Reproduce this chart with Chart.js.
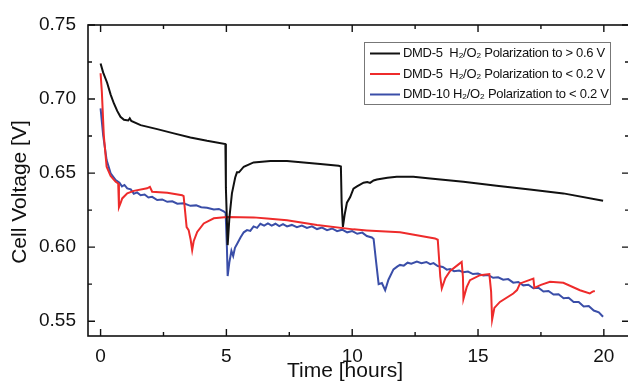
<!DOCTYPE html>
<html>
<head>
<meta charset="utf-8">
<script src="https://cdn.jsdelivr.net/npm/chart.js@4.4.1/dist/chart.umd.min.js"></script>
<style>
  html, body { margin: 0; padding: 0; background: #fff; overflow: hidden; }
  #wrap { width: 640px; height: 384px; }
</style>
</head>
<body>
<div id="wrap"><canvas id="volt"></canvas></div>
<script>
// values: time [h] and cell voltage [V]
const blackTime = [0, 0.1, 0.26, 0.4, 0.53, 0.66, 0.79, 0.93, 1.1, 1.16, 1.22, 1.59, 2.25, 2.91, 3.57, 4.23, 4.96,
  4.98, 5.05, 5.12, 5.22, 5.35, 5.42, 5.5, 5.69, 6.08, 6.75, 7.41, 8.07, 8.73, 9.46, 9.55,
  9.58, 9.63, 9.7, 9.79, 9.92, 10.05, 10.19, 10.45, 10.6, 10.71, 10.85, 10.98, 11.4, 11.77, 12.43, 13.1,
  14.42, 15.74, 17.06, 18.39, 19.97];
const blackVolt = [0.724, 0.718, 0.711, 0.703, 0.697, 0.692, 0.688, 0.686, 0.6855, 0.687, 0.6852, 0.6824, 0.6797, 0.6768, 0.6741, 0.6718, 0.6696,
  0.64, 0.6014, 0.62, 0.6363, 0.647, 0.6505, 0.6505, 0.6543, 0.6572, 0.6581, 0.6581, 0.6572, 0.6561, 0.6549, 0.6545,
  0.63, 0.6137, 0.622, 0.63, 0.6338, 0.6395, 0.641, 0.6435, 0.644, 0.6434, 0.645, 0.6457, 0.6468, 0.6475, 0.6475, 0.6464,
  0.6441, 0.6414, 0.639, 0.6363, 0.6313];

const redTime = [0, 0.05, 0.13, 0.24, 0.4, 0.6, 0.7, 0.73, 0.8, 0.86, 1.06, 1.32, 1.85, 1.96, 2.05, 2.65, 3.24, 3.3,
  3.42, 3.5, 3.58, 3.64, 3.7, 3.84, 4.1, 4.5, 5.03, 6.08, 6.61, 7.41, 8.6, 10.05, 10.58, 11.9, 13.29, 13.4,
  13.5, 13.56, 13.7, 13.89, 14.2, 14.35, 14.4, 14.42, 14.55, 14.68, 15.08, 15.45, 15.52, 15.56, 15.65, 15.87,
  16.4, 16.55, 16.67, 17.2, 17.24, 17.5, 17.86, 18.39, 19.05, 19.44, 19.55, 19.64];
const redVolt = [0.7174, 0.705, 0.675, 0.6543, 0.648, 0.6441, 0.643, 0.627, 0.63, 0.6329, 0.6363, 0.638, 0.6397, 0.6407, 0.6374, 0.6367, 0.6351, 0.6345,
  0.6135, 0.6115, 0.605, 0.598, 0.604, 0.6103, 0.616, 0.6195, 0.6203, 0.6201, 0.6194, 0.6182, 0.615, 0.612, 0.6113, 0.61, 0.6059, 0.605,
  0.58, 0.5721, 0.579, 0.584, 0.588, 0.59, 0.58, 0.565, 0.573, 0.5777, 0.5811, 0.5818, 0.57, 0.551, 0.559, 0.563,
  0.5687, 0.571, 0.5755, 0.5788, 0.5725, 0.5745, 0.5766, 0.5759, 0.5709, 0.5687, 0.57, 0.5704];

const blueTime = [0, 0.1, 0.24, 0.4, 0.6, 0.75, 0.85, 0.95, 1.06, 1.2, 1.32, 1.45, 1.59, 1.75, 1.9, 2.05, 2.25, 2.45, 2.65, 2.85,
  3.05, 3.3, 3.57, 3.8, 4, 4.23, 4.5, 4.7, 4.89, 4.97, 5.02, 5.05, 5.12, 5.2, 5.27, 5.34, 5.45, 5.56, 5.69, 5.82,
  5.95, 6.08, 6.22, 6.35, 6.5, 6.65, 6.8, 6.95, 7.1, 7.25, 7.41, 7.6, 7.8, 8, 8.2, 8.4, 8.6, 8.8, 9, 9.2,
  9.4, 9.6, 9.8, 10, 10.2, 10.4, 10.58, 10.78, 10.85, 10.95, 11.05, 11.18, 11.31, 11.44, 11.64, 11.8, 11.9, 12.05, 12.2, 12.35,
  12.57, 12.75, 12.95, 13.1, 13.23, 13.4, 13.6, 13.76, 13.89, 14.05, 14.25, 14.42, 14.6, 14.8, 15, 15.21, 15.4, 15.6, 15.8, 16,
  16.2, 16.4, 16.6, 16.8, 17, 17.2, 17.4, 17.6, 17.8, 18, 18.2, 18.4, 18.6, 18.8, 19, 19.2, 19.4, 19.6, 19.8, 19.97];
const blueVolt = [0.6937, 0.676, 0.6588, 0.6498, 0.6453, 0.6435, 0.641, 0.642, 0.6397, 0.639, 0.636, 0.637, 0.6351, 0.6355, 0.6335, 0.634, 0.6318, 0.6322, 0.6306, 0.631,
  0.6293, 0.6296, 0.6279, 0.6282, 0.627, 0.6266, 0.6255, 0.6258, 0.6242, 0.623, 0.6, 0.5805, 0.59, 0.5975, 0.594, 0.5995, 0.603, 0.6065, 0.61, 0.6115,
  0.611, 0.614, 0.613, 0.6158, 0.6145, 0.616, 0.6145, 0.6158, 0.6142, 0.6155, 0.614, 0.615, 0.6135, 0.6146, 0.613, 0.614, 0.6122, 0.6132, 0.6115, 0.6126,
  0.6108, 0.6118, 0.61, 0.6108, 0.609, 0.6098, 0.6075, 0.6065, 0.6055, 0.59, 0.575, 0.5758, 0.5709, 0.578, 0.585, 0.587, 0.588, 0.5875, 0.5895, 0.5888,
  0.5902, 0.5892, 0.59, 0.5885, 0.5892, 0.5872, 0.5866, 0.5848, 0.5852, 0.5838, 0.5842, 0.583, 0.5835, 0.5818, 0.5822, 0.5808, 0.5812, 0.5793, 0.5796, 0.578,
  0.5784, 0.576, 0.5765, 0.5742, 0.5746, 0.5722, 0.5726, 0.57, 0.5704, 0.568, 0.5682, 0.5655, 0.5658, 0.563, 0.563, 0.56, 0.5602, 0.5572, 0.556, 0.553];

const seriesLabels = [
  'DMD-5  H\u2082/O\u2082 Polarization to > 0.6 V',
  'DMD-5  H\u2082/O\u2082 Polarization to < 0.2 V',
  'DMD-10 H\u2082/O\u2082 Polarization to < 0.2 V'
];
const seriesColors = ['#111111', '#ee2b2b', '#3a4ea8'];

const xTicks = [0, 5, 10, 15, 20];
const xMinorTicks = [2.5, 7.5, 12.5, 17.5];
const yTicks = [0.55, 0.60, 0.65, 0.70, 0.75];
const yMinorTicks = [0.575, 0.625, 0.675, 0.725];
const xTitle = 'Time [hours]';
const yTitle = 'Cell Voltage [V]';

const FONT = "'Liberation Sans', Arial, Helvetica, sans-serif";

function pairs(xs, ys) {
  return xs.map((x, i) => ({ x: x, y: ys[i] }));
}

// frame with inward ticks on all four sides, plus axis titles
const framePlugin = {
  id: 'frame',
  afterDatasetsDraw(chart) {
    const { ctx, chartArea: a, scales } = chart;
    const xs = scales.x, ys = scales.y;
    ctx.save();
    ctx.strokeStyle = '#111';
    ctx.lineWidth = 1.6;
    ctx.strokeRect(a.left, a.top, a.right - a.left, a.bottom - a.top);
    ctx.lineWidth = 1.4;
    ctx.beginPath();
    const xt = (v, len) => {
      const px = xs.getPixelForValue(v);
      ctx.moveTo(px, a.bottom); ctx.lineTo(px, a.bottom - len);
      ctx.moveTo(px, a.top); ctx.lineTo(px, a.top + len);
    };
    const yt = (v, len) => {
      const py = ys.getPixelForValue(v);
      ctx.moveTo(a.left, py); ctx.lineTo(a.left + len, py);
      ctx.moveTo(a.right, py); ctx.lineTo(a.right - len, py);
    };
    xTicks.forEach(v => xt(v, 7));
    xMinorTicks.forEach(v => xt(v, 4));
    yTicks.forEach(v => yt(v, 7));
    yMinorTicks.forEach(v => yt(v, 4));
    ctx.stroke();

    ctx.fillStyle = '#111';
    ctx.font = '21px ' + FONT;
    ctx.textAlign = 'center';
    ctx.textBaseline = 'middle';
    ctx.fillText(xTitle, 345, 371);
    ctx.translate(20, 192);
    ctx.rotate(-Math.PI / 2);
    ctx.fillText(yTitle, 0, 0);
    ctx.restore();
  }
};

const legendPlugin = {
  id: 'boxLegend',
  afterDraw(chart) {
    const ctx = chart.ctx;
    ctx.save();
    ctx.fillStyle = '#fff';
    ctx.fillRect(364.5, 42.5, 246, 62);
    ctx.strokeStyle = '#777';
    ctx.lineWidth = 1;
    ctx.strokeRect(364.5, 42.5, 246, 62);
    ctx.font = '13px ' + FONT;
    ctx.letterSpacing = '-0.3px';
    ctx.textBaseline = 'middle';
    ctx.textAlign = 'left';
    chart.data.datasets.forEach((ds, i) => {
      const y = 53.5 + i * 20.5;
      ctx.strokeStyle = ds.borderColor;
      ctx.lineWidth = 2;
      ctx.beginPath();
      ctx.moveTo(370, y); ctx.lineTo(400, y);
      ctx.stroke();
      ctx.fillStyle = '#111';
      ctx.fillText(ds.label, 403, y);
    });
    ctx.restore();
  }
};

new Chart(document.getElementById('volt'), {
  type: 'line',
  data: {
    datasets: [
      { label: seriesLabels[0], data: pairs(blackTime, blackVolt), borderColor: seriesColors[0] },
      { label: seriesLabels[1], data: pairs(redTime, redVolt), borderColor: seriesColors[1] },
      { label: seriesLabels[2], data: pairs(blueTime, blueVolt), borderColor: seriesColors[2] }
    ]
  },
  options: {
    responsive: true,
    maintainAspectRatio: false,
    animation: false,
    layout: { padding: { top: 25, right: 11, left: 0, bottom: 0 } },
    elements: {
      line: { borderWidth: 2, tension: 0 },
      point: { radius: 0 }
    },
    plugins: {
      legend: { display: false },
      tooltip: { enabled: false }
    },
    scales: {
      x: {
        type: 'linear',
        min: -0.5,
        max: 21,
        grid: { display: false, drawTicks: false },
        border: { display: false },
        afterBuildTicks: (s) => { s.ticks = xTicks.map(v => ({ value: v })); },
        afterFit: (s) => { s.height = 48; },
        ticks: {
          padding: 9,
          color: '#111',
          font: { family: FONT, size: 19 },
          maxRotation: 0,
          callback: (v) => String(v)
        }
      },
      y: {
        type: 'linear',
        min: 0.54,
        max: 0.75,
        grid: { display: false, drawTicks: false },
        border: { display: false },
        afterBuildTicks: (s) => { s.ticks = yTicks.map(v => ({ value: v })); },
        afterFit: (s) => { s.width = 88; },
        ticks: {
          padding: 12,
          color: '#111',
          font: { family: FONT, size: 19 },
          callback: (v) => Number(v).toFixed(2)
        }
      }
    }
  },
  plugins: [framePlugin, legendPlugin]
});
</script>
</body>
</html>
